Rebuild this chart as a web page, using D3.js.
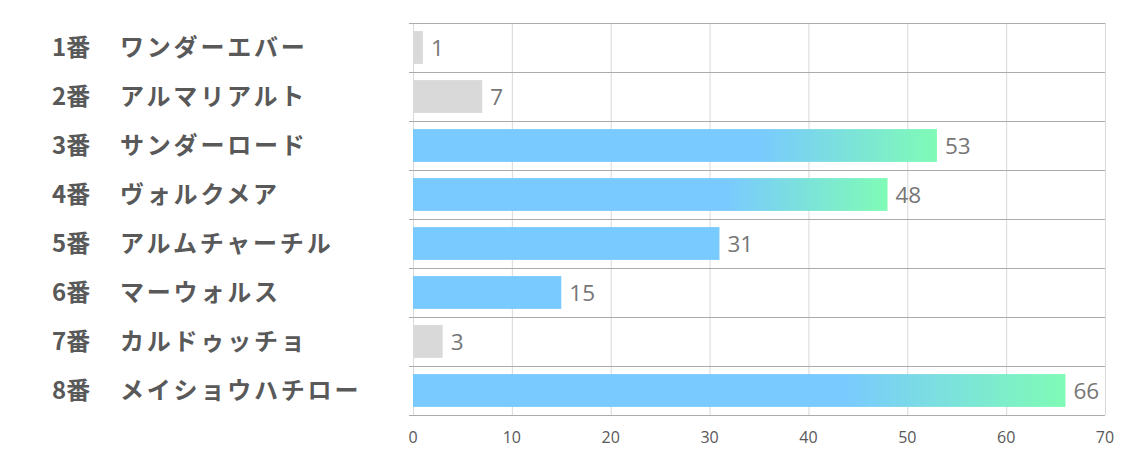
<!DOCTYPE html>
<html><head><meta charset="utf-8">
<script src="https://cdn.jsdelivr.net/npm/d3@7/dist/d3.min.js"></script>
<style>body{margin:0;background:#fff}svg{display:block}</style>
</head><body><svg id="c" width="1134" height="453"></svg>
<script>
const numbers = ["1番","2番","3番","4番","5番","6番","7番","8番"];
const names = ["ワンダーエバー","アルマリアルト","サンダーロード","ヴォルクメア","アルムチャーチル","マーウォルス","カルドゥッチョ","メイショウハチロー"];
const values = [1,7,53,48,31,15,3,66];
const kinds = ["gray","gray","grad","grad","blue","blue","gray","grad"];
const ticks = [0,10,20,30,40,50,60,70];

const svg = d3.select("#c");
const m = {l:413, r:1105, t:23, b:415};
const x = d3.scaleLinear().domain([0,70]).range([m.l, m.r]);
const y = d3.scaleBand().domain(d3.range(values.length)).range([m.t, m.b]).paddingInner(0.33).paddingOuter(0.165);
const rowY = d3.scaleBand().domain(d3.range(values.length)).range([m.t, m.b]);

const defs = svg.append("defs");
const g = defs.append("linearGradient").attr("id","gr").attr("x1","0").attr("x2","1").attr("y1","0").attr("y2","0");
g.append("stop").attr("offset","0.66").attr("stop-color","#79CAFE");
g.append("stop").attr("offset","1").attr("stop-color","#7FFBB6");

// vertical grid
svg.append("g").selectAll("line").data(ticks).join("line")
  .attr("x1", d=>x(d)+0.5).attr("x2", d=>x(d)+0.5).attr("y1", m.t).attr("y2", m.b)
  .attr("stroke","#D9D9D9").attr("stroke-width",1);
// horizontal lines
const hl = d3.range(values.length+1).map(i => i===values.length ? m.b : rowY(i));
svg.append("g").selectAll("line").data(hl).join("line")
  .attr("x1", m.l-4).attr("x2", m.r).attr("y1", d=>Math.round(d)+0.5).attr("y2", d=>Math.round(d)+0.5)
  .attr("stroke","#ABABAB").attr("stroke-width",1);

// bars
svg.append("g").selectAll("rect").data(values).join("rect")
  .attr("x", x(0)).attr("y", (d,i)=>y(i)).attr("height", y.bandwidth())
  .attr("width", d=>x(d)-x(0))
  .attr("fill", (d,i)=> kinds[i]==="gray" ? "#D9D9D9" : kinds[i]==="blue" ? "#79CAFE" : "url(#gr)");

// value labels
svg.append("g").selectAll("text").data(values).join("text")
  .attr("x", d=>x(d)+8).attr("y", (d,i)=>rowY(i)+rowY.bandwidth()/2)
  .attr("dy","0.36em").attr("font-family","'Open Sans', sans-serif").attr("font-size",22.5)
  .attr("fill","#767676").text(d=>d);

// category labels
const lab = svg.append("g").attr("font-family","'Noto Sans CJK JP', sans-serif").attr("font-weight","bold")
  .attr("font-size",24).attr("fill","#595959");
lab.selectAll("text.n").data(numbers).join("text").attr("class","n")
  .attr("x",52).attr("y",(d,i)=>rowY(i)+rowY.bandwidth()/2).attr("dy","0.36em").text(d=>d);
lab.selectAll("text.k").data(names).join("text").attr("class","k")
  .attr("x",120).attr("y",(d,i)=>rowY(i)+rowY.bandwidth()/2).attr("dy","0.36em")
  .attr("letter-spacing","2.8px").text(d=>d);

// x axis tick labels
svg.append("g").selectAll("text").data(ticks).join("text")
  .attr("x", d=>x(d)).attr("y", 437).attr("dy","0.36em").attr("text-anchor","middle")
  .attr("font-family","'Open Sans', sans-serif").attr("font-size",16).attr("fill","#595959").text(d=>d);
</script></body></html>
